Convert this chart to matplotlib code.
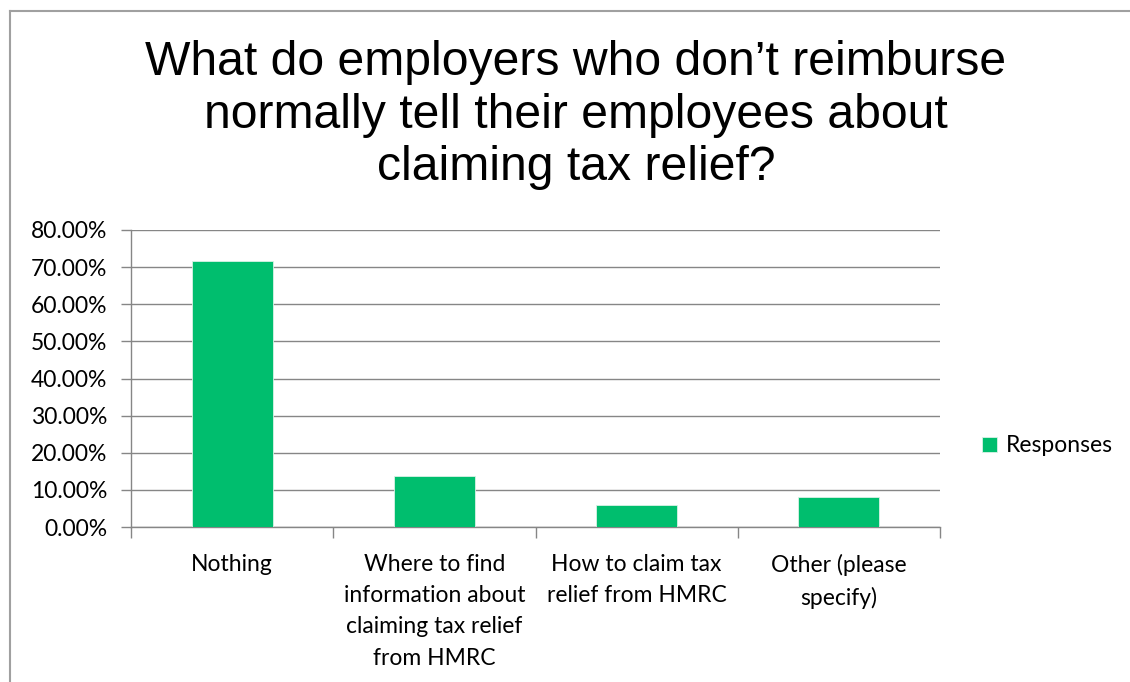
import matplotlib
matplotlib.use("Agg")
import matplotlib.pyplot as plt
from matplotlib.lines import Line2D
from matplotlib.ticker import FuncFormatter, FixedLocator

categories = ["Nothing",
              "Where to find\ninformation about\nclaiming tax relief\nfrom HMRC",
              "How to claim tax\nrelief from HMRC",
              "Other (please\nspecify)"]
responses = [71.7, 13.75, 5.9, 8.0]   # percent
yticks = [0, 10, 20, 30, 40, 50, 60, 70, 80]
title = "What do employers who don\u2019t reimburse\nnormally tell their employees about\nclaiming tax relief?"

GREEN = "#00BE6E"
GREY = "#868686"
TICKFONT = "Lato"
TICKSIZE = 16.5

fig = plt.figure(figsize=(11.3, 6.82), dpi=100)
ax = fig.add_axes([131/1130, 1-527/682, (940-131)/1130, (527-230)/682])

x = range(len(categories))
ax.bar(x, responses, width=0.4, color=GREEN, edgecolor="#d9f2e6", linewidth=0.6,
       label="Responses", zorder=3)

ax.set_xlim(-0.5, len(categories) - 0.5)
ax.set_ylim(0, 80)
ax.set_yticks(yticks)
ax.yaxis.set_major_formatter(FuncFormatter(lambda v, _: f"{v:.2f}%"))
ax.grid(axis="y", color=GREY, linewidth=1.0, zorder=0)

ax.set_xticks(list(x))
ax.set_xticklabels(categories, fontfamily=TICKFONT, fontsize=TICKSIZE, linespacing=1.6, va="top")
ax.xaxis.set_minor_locator(FixedLocator([i - 0.5 for i in range(len(categories) + 1)]))
ax.tick_params(axis="x", which="major", length=0, pad=19.5)
ax.tick_params(axis="x", which="minor", length=8, width=1.0, color=GREY)
ax.tick_params(axis="y", length=7, width=1.0, color=GREY, pad=10)
for lbl in ax.get_yticklabels():
    lbl.set_fontfamily(TICKFONT)
    lbl.set_fontsize(TICKSIZE)

for s in ("top", "right"):
    ax.spines[s].set_visible(False)
for s in ("left", "bottom"):
    ax.spines[s].set_color(GREY)
    ax.spines[s].set_linewidth(1.0)

fig.text(576/1130, 1-40/682, title, ha="center", va="top", fontfamily="Liberation Sans",
         fontsize=34.7, linespacing=1.22)

leg = fig.legend(loc="center left", bbox_to_anchor=(961/1130, 1-446/682), frameon=False,
                 handlelength=0.65, handleheight=0.65, handletextpad=0.4,
                 prop={"family": TICKFONT, "size": TICKSIZE})

# chart frame
fig.add_artist(Line2D([10/1130, 10/1130], [0, 1-11/682], color="#a0a0a0", linewidth=1.5))
fig.add_artist(Line2D([10/1130, 1], [1-11/682, 1-11/682], color="#a0a0a0", linewidth=1.5))

fig.savefig("out.png", dpi=100)
